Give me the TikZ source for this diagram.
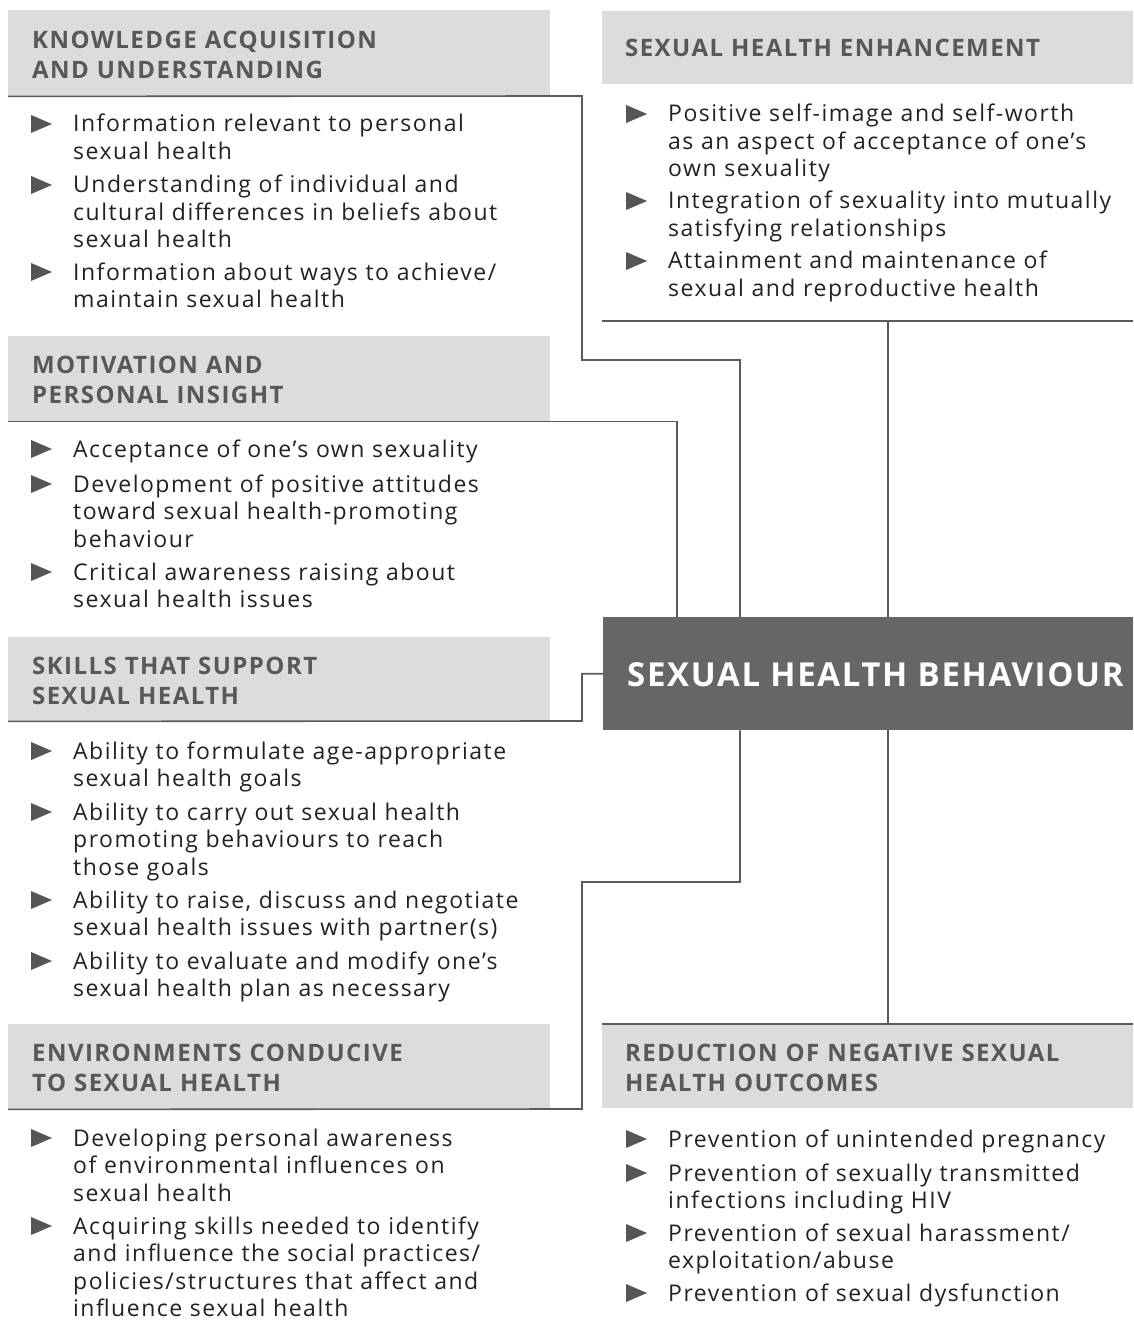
\documentclass[tikz,border=0pt]{standalone}
\usepackage{fontspec}
\setmainfont{Open Sans}
\usetikzlibrary{calc}
\definecolor{hdrfill}{HTML}{DCDCDC}
\definecolor{hdrtext}{HTML}{585858}
\definecolor{linec}{HTML}{5A5A5A}
\definecolor{bodyc}{HTML}{222222}
\definecolor{bulc}{HTML}{555555}
\definecolor{shbfill}{HTML}{666666}
\tikzset{
  hbox/.style={fill=hdrfill, draw=none, anchor=north west, inner sep=0pt},
  htext/.style={anchor=base west, inner sep=0pt, align=left, text width=520pt, text=hdrtext,
     font=\fontsize{24}{30}\selectfont\bfseries\addfontfeature{LetterSpace=6}},
  item/.style={anchor=base west, inner sep=0pt, align=left, text width=500pt, text=bodyc,
     font=\fontsize{23}{27.5}\selectfont\addfontfeature{LetterSpace=6.5}},
  conn/.style={draw=linec, line width=1.6pt},
  bull/.style={fill=bulc}
}
\newcommand\myitem[4]{%
  \node[item] (#1) at (#2,#3) {#4};
  \fill[bull] ($(#1.base west)+(-42,-17)$) -- ($(#1.base west)+(-21,-8)$) -- ($(#1.base west)+(-42,1)$) -- cycle;}
\begin{document}
\begin{tikzpicture}[x=1pt,y=-1pt]
\useasboundingbox[fill=white] (0,0) rectangle (1133,1321);

% ---------- left headers ----------
\node[hbox, minimum width=542pt, minimum height=86pt] (ka) at (8,10) {};
\node[htext] (kat) at (32,49) {KNOWLEDGE ACQUISITION\\AND UNDERSTANDING};
\node[hbox, minimum width=542pt, minimum height=85pt] (mp) at (8,336) {};
\node[htext] (mpt) at (32,373) {MOTIVATION AND\\PERSONAL INSIGHT};
\node[hbox, minimum width=542pt, minimum height=84pt] (sk) at (8,637) {};
\node[htext] (skt) at (32,674) {SKILLS THAT SUPPORT\\SEXUAL HEALTH};
\node[hbox, minimum width=542pt, minimum height=85pt] (en) at (8,1024) {};
\node[htext] (ent) at (32,1061) {ENVIRONMENTS CONDUCIVE\\TO SEXUAL HEALTH};

% ---------- right headers ----------
\node[hbox, minimum width=531pt, minimum height=73pt] (she) at (602,11) {};
\node[htext] (shet) at (625,57) {SEXUAL HEALTH ENHANCEMENT};
\node[hbox, minimum width=531pt, minimum height=84pt] (rd) at (602,1024) {};
\node[htext] (rdt) at (625,1061) {REDUCTION OF NEGATIVE SEXUAL\\HEALTH OUTCOMES};

% ---------- central box ----------
\node[fill=shbfill, anchor=north west, minimum width=530pt, minimum height=113pt, inner sep=0pt] (shb) at (603,617) {};
\node[anchor=base west, inner sep=0pt, text=white, font=\fontsize{33}{40}\selectfont\bfseries\addfontfeature{LetterSpace=5}] (shbt) at (627,686) {SEXUAL HEALTH BEHAVIOUR};

% ---------- connectors ----------
\coordinate (kac) at (582,96);
\coordinate (kam) at (582,360);
\draw[conn] (ka.south west) -- (kac) -- (kam) -| ($(shb.north west)+(137,0)$);
\draw[conn] (mp.south west) -| ($(shb.north west)+(74,0)$);
\coordinate (skc) at (582,721);
\draw[conn] (sk.south west) -- (skc) |- (shb.west);
\coordinate (enc) at (582,1109);
\coordinate (enm) at (582,882);
\draw[conn] (en.south west) -- (enc) -- (enm) -| ($(shb.south west)+(137,0)$);
\coordinate (sheL) at (602,321);
\coordinate (sheR) at (1133,321);
\coordinate (shev) at (888,321);
\draw[conn] (sheL) -- (sheR);
\draw[conn] (shev) -- (shev |- shb.north);
\coordinate (rdv) at (888,1024);
\draw[conn] (rd.north west) -- (rd.north east);
\draw[conn] (rdv |- shb.south) -- (rdv);

% ---------- left items ----------
\myitem{ka1}{73}{132}{Information relevant to personal\\sexual health}
\myitem{ka2}{73}{193}{Understanding of individual and\\cultural differences in beliefs about\\sexual health}
\myitem{ka3}{73}{280}{Information about ways to achieve/\\maintain sexual health}

\myitem{mp1}{73}{457}{Acceptance of one’s own sexuality}
\myitem{mp2}{73}{492}{Development of positive attitudes\\toward sexual health-promoting\\behaviour}
\myitem{mp3}{73}{580}{Critical awareness raising about\\sexual health issues}

\myitem{sk1}{73}{759}{Ability to formulate age-appropriate\\sexual health goals}
\myitem{sk2}{73}{820}{Ability to carry out sexual health\\promoting behaviours to reach\\those goals}
\myitem{sk3}{73}{908}{Ability to raise, discuss and negotiate\\sexual health issues with partner(s)}
\myitem{sk4}{73}{969}{Ability to evaluate and modify one’s\\sexual health plan as necessary}

\myitem{en1}{73}{1146}{Developing personal awareness\\of environmental influences on\\sexual health}
\myitem{en2}{73}{1234}{Acquiring skills needed to identify\\and influence the social practices/\\policies/structures that affect and\\influence sexual health}

% ---------- right items ----------
\myitem{she1}{668}{122}{Positive self-image and self-worth\\as an aspect of acceptance of one’s\\own sexuality}
\myitem{she2}{668}{209}{Integration of sexuality into mutually\\satisfying relationships}
\myitem{she3}{668}{269}{Attainment and maintenance of\\sexual and reproductive health}

\myitem{rd1}{668}{1147}{Prevention of unintended pregnancy}
\myitem{rd2}{668}{1181}{Prevention of sexually transmitted\\infections including HIV}
\myitem{rd3}{668}{1241}{Prevention of sexual harassment/\\exploitation/abuse}
\myitem{rd4}{668}{1301}{Prevention of sexual dysfunction}
\end{tikzpicture}
\end{document}
